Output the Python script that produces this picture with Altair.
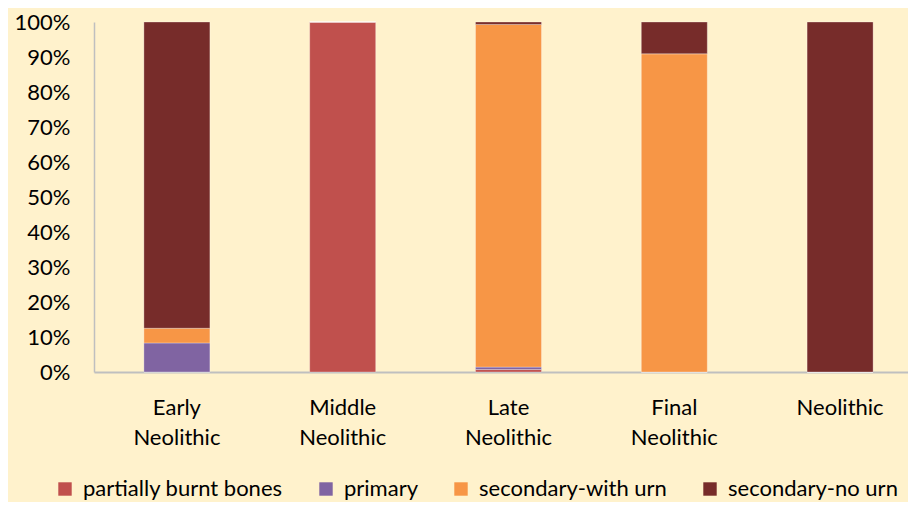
import altair as alt
import pandas as pd

periods = ["Early Neolithic", "Middle Neolithic", "Late Neolithic", "Final Neolithic", "Neolithic"]
types = ["partially burnt bones", "primary", "secondary-with urn", "secondary-no urn"]
colors = ["#C0504D", "#8064A2", "#F79646", "#772C2A"]

partially_burnt = [0.0, 100.0, 0.7, 0.0, 0.0]
primary = [8.3, 0.0, 0.7, 0.0, 0.0]
secondary_with_urn = [4.2, 0.0, 97.9, 90.9, 0.0]
secondary_no_urn = [87.5, 0.0, 0.7, 9.1, 100.0]

series = [partially_burnt, primary, secondary_with_urn, secondary_no_urn]
rows = []
for ti, (t, vals) in enumerate(zip(types, series)):
    for p, v in zip(periods, vals):
        rows.append({"period": p, "type": t, "value": v, "ord": ti})
df = pd.DataFrame(rows)

FONT = "Lato"
FS = 22

chart = alt.Chart(df).mark_bar(width=66, stroke="#FFFFFF", strokeWidth=0.6, strokeOpacity=0.5).encode(
    x=alt.X("period:N", sort=periods, title=None,
            scale=alt.Scale(range=[0, 829], paddingInner=0, paddingOuter=0),
            axis=alt.Axis(labelAngle=0, ticks=False, domainColor="#BFBFBF", domainWidth=2,
                          labelExpr="split(datum.label, ' ')", labelLineHeight=30,
                          labelPadding=25, labelFontSize=FS, labelFont=FONT, labelColor="#000000")),
    y=alt.Y("value:Q", stack="normalize", title=None,
            scale=alt.Scale(domain=[0, 1]),
            axis=alt.Axis(format="%", values=[i / 10 for i in range(11)], grid=False, ticks=False,
                          domainColor="#BFBFBF", domainWidth=1.5, labelPadding=24,
                          labelFontSize=FS, labelFont=FONT, labelColor="#000000")),
    color=alt.Color("type:N", sort=types, scale=alt.Scale(domain=types, range=colors),
                    legend=alt.Legend(title=None, orient="none", direction="horizontal",
                                      legendX=-40, legendY=456, symbolType="square",
                                      symbolSize=180, symbolStrokeWidth=0, labelFontSize=FS,
                                      labelFont=FONT, labelColor="#000000", columnPadding=32,
                                      labelOffset=7, labelLimit=0)),
    order=alt.Order("ord:Q", sort="ascending"),
).properties(
    width=814, height=350,
    autosize=alt.AutoSizeParams(type="none"),
    padding={"left": 86, "top": 14, "right": 0, "bottom": 130},
    background="#FFF2CC",
).configure_view(stroke=None)

chart.save("out.html", embed_options={"renderer": "svg", "actions": False})
